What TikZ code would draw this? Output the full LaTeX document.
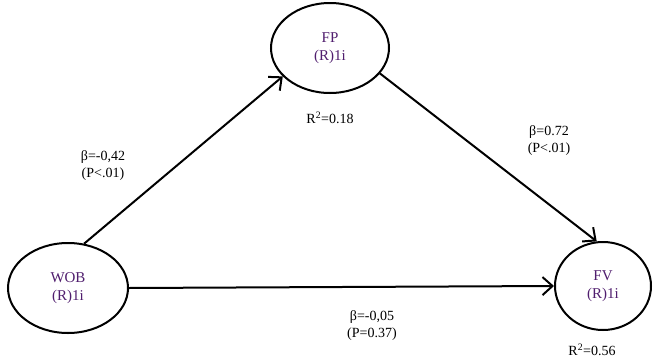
\documentclass[tikz,border=0pt]{standalone}
\usepackage{fontspec}
\setmainfont{Liberation Serif}
\usepackage{tikz}
\usetikzlibrary{arrows.meta}
\usetikzlibrary{shapes.geometric}

\definecolor{varpurple}{RGB}{80,30,110}

\begin{document}
\begin{tikzpicture}[x=1pt,y=-1pt,
		latent/.style={ellipse,draw,line width=2pt,inner sep=0pt,
			align=center,text=varpurple,font=\fontsize{15}{18}\selectfont},
		path/.style={line width=2pt,-{Straight Barb[length=10pt,width=18pt,line width=2pt]}},
		coef/.style={align=center,font=\fontsize{14}{17}\selectfont}]
		\useasboundingbox (0,0) rectangle (654,362);
		% latent variables
		\node[latent,minimum width=120pt,minimum height=90pt] (wob) at (68,288) {WOB\\(R)1i};
		\node[latent,minimum width=118pt,minimum height=90pt] (fp) at (330,48) {FP\\(R)1i};
		\node[latent,minimum width=96pt,minimum height=88pt] (fv) at (603,286) {FV\\(R)1i};
		% paths
		\draw[path] (wob.70) -- (fp.211);
		\draw[path] (fp.333) -- (fv.98);
		\draw[path] (wob.east) -- (fv.west);
		% coefficients
		\node[coef] (cwf) at (103,166) {β=-0,42\\(P<.01)};
		\node[coef] (cfv) at (549,141) {β=0.72\\(P<.01)};
		\node[coef] (cwv) at (372,326) {β=-0,05\\(P=0.37)};
		% explained variance
		\node[coef] (rfp) at (330,118) {R\textsuperscript{2}=0.18};
		\node[coef] (rfv) at (592,350) {R\textsuperscript{2}=0.56};
\end{tikzpicture}
\end{document}
